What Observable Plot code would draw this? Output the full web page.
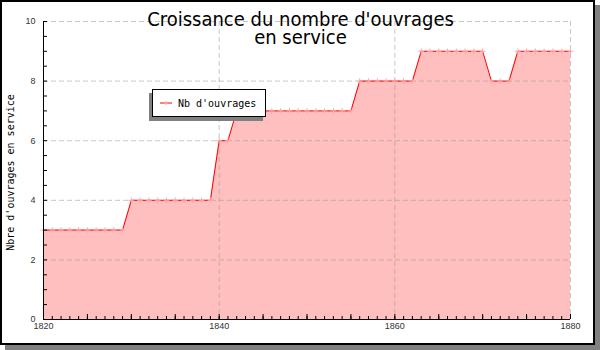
<!DOCTYPE html>
<html>
<head>
<meta charset="utf-8">
<script src="https://cdn.jsdelivr.net/npm/d3@7"></script>
<script src="https://cdn.jsdelivr.net/npm/@observablehq/plot@0.6"></script>
<style>
  html, body { margin: 0; padding: 0; background: white; }
  #wrap { position: relative; width: 600px; height: 350px; overflow: hidden; }
  #frame { position: absolute; left: 0; top: 0; width: 595px; height: 345px; box-sizing: border-box;
           border: 2px solid #000; background: #fff; box-shadow: 5px 5px 0 #808080; }
  #chart { position: absolute; left: 0; top: 0; }
  #legend { position: absolute; left: 152px; top: 89px; width: 114px; height: 28px; box-sizing: border-box;
            border: 1px solid #000; background: #fff; box-shadow: -3px 4px 0 #808080;
            font-family: "DejaVu Sans Mono", monospace; font-size: 10px; color: #000;
            display: flex; align-items: center; }
  #legend svg { margin-left: 7px; margin-right: 6px; }
</style>
</head>
<body>
<div id="wrap">
  <div id="frame"></div>
  <div id="chart"></div>
  <div id="legend"><svg width="12" height="6"><line x1="0" y1="3" x2="12" y2="3" stroke="#ff0000" stroke-width="1"/><path d="M6,1V5M4,3H8" stroke="#ffa8a8" stroke-width="1"/></svg><span>Nb d'ouvrages</span></div>
</div>
<script>
const titleText = "Croissance du nombre d'ouvrages\nen service";
const yLabelText = "Nbre d'ouvrages en service";
const seriesName = "Nb d'ouvrages";

const years = [1820,1821,1822,1823,1824,1825,1826,1827,1828,1829,
               1830,1831,1832,1833,1834,1835,1836,1837,1838,1839,
               1840,1841,1842,1843,1844,1845,1846,1847,1848,1849,
               1850,1851,1852,1853,1854,1855,1856,1857,1858,1859,
               1860,1861,1862,1863,1864,1865,1866,1867,1868,1869,
               1870,1871,1872,1873,1874,1875,1876,1877,1878,1879,1880];
const counts = [3,3,3,3,3,3,3,3,3,3,
                4,4,4,4,4,4,4,4,4,4,
                6,6,7,7,7,7,7,7,7,7,
                7,7,7,7,7,7,8,8,8,8,
                8,8,8,9,9,9,9,9,9,9,
                9,8,8,8,9,9,9,9,9,9,9];

const xMidTicks = [1820,1825,1830,1835,1840,1845,1850,1855,1860,1865,1870,1875,1880];
const xLabels = [1820,1840,1860,1880];
const yMinorTicks = [0,0.5,1,1.5,2,2.5,3,3.5,4,4.5,5,5.5,6,6.5,7,7.5,8,8.5,9,9.5,10];
const yLabels = [0,2,4,6,8,10];
const yGrid = [2,4,6,8,10];
const xGrid = [1840,1860,1880];

const data = years.map((year, i) => ({year, n: counts[i]}));

const gridStyle = {stroke: "#999", strokeOpacity: 0.55, strokeDasharray: "5,3"};
const labelFont = "'Liberation Sans', Arial, sans-serif";
const titleFont = "'DejaVu Sans Condensed', 'DejaVu Sans', sans-serif";

const chart = Plot.plot({
  width: 600,
  height: 350,
  marginLeft: 43,
  marginRight: 30,
  marginTop: 21,
  marginBottom: 31,
  style: {background: "transparent", overflow: "visible", fontFamily: labelFont, fontSize: "9px", color: "#333"},
  x: {domain: [1820, 1880], axis: null, label: null},
  y: {domain: [0, 10], axis: null, label: null},
  marks: [
    Plot.areaY(data, {x: "year", y: "n", fill: "#ffbfbf"}),
    Plot.ruleX(xGrid, gridStyle),
    Plot.ruleY(yGrid, gridStyle),
    Plot.lineY(data, {x: "year", y: "n", stroke: "#ff0000", strokeWidth: 1}),
    Plot.dot(data, {x: "year", y: "n", symbol: "plus", r: 2, stroke: "#ffa8a8", strokeWidth: 1}),
    Plot.ruleX([1820], {stroke: "#000"}),
    Plot.ruleY([0], {stroke: "#000"}),
    Plot.axisX(years, {tickSize: 3, dy: -3, tickFormat: () => "", label: null, stroke: "#000"}),
    Plot.axisX(xMidTicks, {tickSize: 5, dy: -5, tickFormat: () => "", label: null, stroke: "#000"}),
    Plot.axisX(xLabels, {tickSize: 0, tickPadding: 3, label: null, tickFormat: d => String(d), fill: "#333", fontSize: 9}),
    Plot.axisY(yMinorTicks, {tickSize: 4, dx: 4, tickFormat: () => "", label: null, stroke: "#000"}),
    Plot.axisY(yLabels, {tickSize: 0, tickPadding: 8, label: null, fill: "#333", fontSize: 9}),
    Plot.text([titleText], {frameAnchor: "top", dx: -6.5, dy: -8, lineAnchor: "top", lineHeight: 0.9,
      fontSize: 20, fontFamily: titleFont, fontStretch: "condensed", fill: "#000"}),
    Plot.text([yLabelText], {frameAnchor: "left", textAnchor: "middle", rotate: -90, dx: -33, dy: 2,
      fontSize: 10, fontFamily: "'DejaVu Sans Mono', monospace", fill: "#000"})
  ]
});
document.getElementById("chart").appendChild(chart);
</script>
</body>
</html>
